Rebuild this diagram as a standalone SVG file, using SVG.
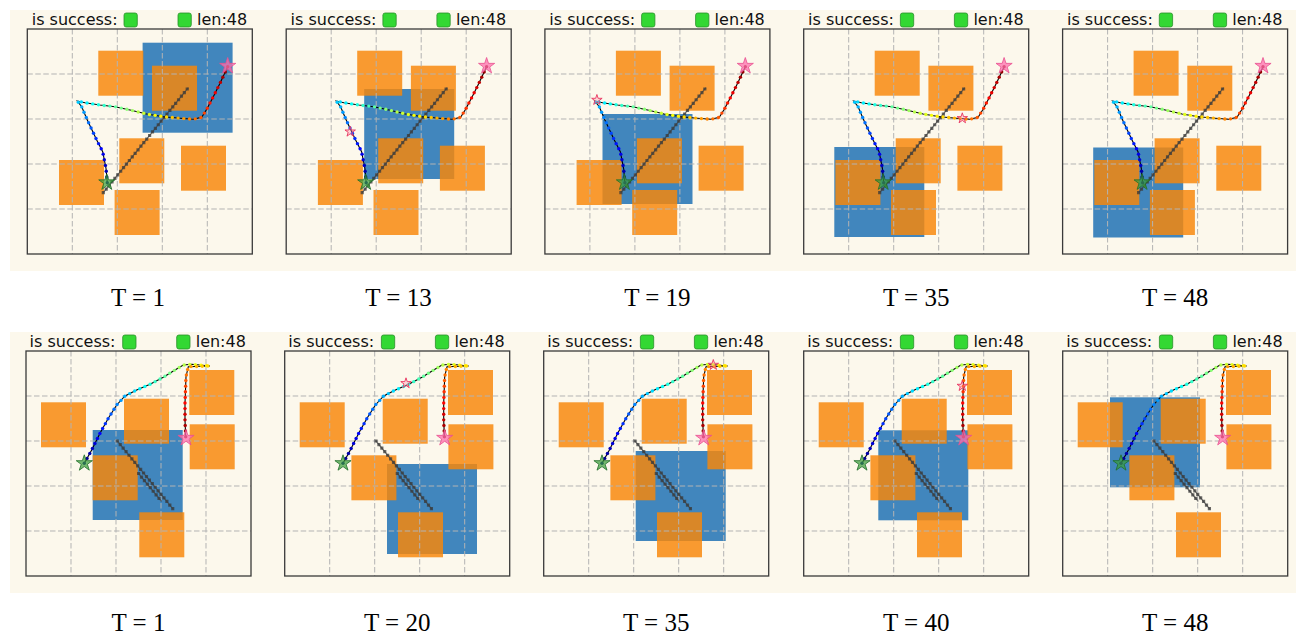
<svg xmlns="http://www.w3.org/2000/svg" xmlns:xlink="http://www.w3.org/1999/xlink" width="1301" height="635" viewBox="0 0 1301 635">
<style>
  .band { fill: #fcf8ec; }
  .blue { fill: #4186bd; }
  .obs { fill: #f8870a; fill-opacity: 0.83; }
  .grid { stroke: #b3b3b3; stroke-width: 1; stroke-dasharray: 5.5 2.5; fill: none; }
  .frame { fill: none; stroke: #3a3a3a; stroke-width: 1.3; }
  .push { fill: none; stroke: #4a4a4a; stroke-opacity: 0.7; stroke-width: 1.2; }
  .pushdots { fill: none; stroke: #383838; stroke-opacity: 0.75; stroke-width: 3.2; stroke-dasharray: 0 4.6; stroke-linecap: square; }
  .path { fill: none; stroke: #000; stroke-width: 1.1; }
  .dots circle { r: 1.7px; }
  .goal { fill: #ff6fae; fill-opacity: 0.75; stroke: #e8508f; stroke-width: 0.8; }
  .start { fill: #3a9e3a; fill-opacity: 0.7; stroke: #1f6f2a; stroke-width: 0.8; }
  .cur { fill: #ff8fa8; fill-opacity: 0.35; stroke: #e8335f; stroke-width: 0.9; }
  .hdr { font-family: "DejaVu Sans", "Liberation Sans", sans-serif; font-size: 16px; fill: #111; }
  .ok { fill: #33d833; stroke: #2a8f2a; stroke-width: 0.8; }
  .cap { font-family: "Liberation Serif", "Times New Roman", serif; font-size: 25px; fill: #000; text-anchor: middle; }
</style>
<defs>
  <path id="bigstar" d="M0,-8.5 L1.91,-2.63 L8.08,-2.63 L3.09,1 L5,6.88 L0,3.25 L-5,6.88 L-3.09,1 L-8.08,-2.63 L-1.91,-2.63 Z"/>
  <path id="smallstar" d="M0,-5.5 L1.23,-1.7 L5.23,-1.7 L2,0.65 L3.23,4.45 L0,2.1 L-3.23,4.45 L-2,0.65 L-5.23,-1.7 L-1.23,-1.7 Z"/>

  <!-- dashed grid, 5 x 5 cells of 45 px -->
  <g id="grid" class="grid">
    <path d="M45,0V225M90,0V225M135,0V225M180,0V225M0,45H225M0,90H225M0,135H225M0,180H225"/>
  </g>
  <rect id="frame" class="frame" x="0" y="0" width="225" height="225"/>

  <!-- header: success flag and episode length -->
  <g id="header">
    <rect class="ok" x="96.7" y="-16" width="13.3" height="14" rx="2.2"/>
    <rect class="ok" x="150.7" y="-16" width="13.3" height="14" rx="2.2"/>
  </g>

  <!-- obstacles, scene A -->
  <g id="obsA" class="obs">
    <rect x="71" y="21.7" width="45" height="45"/>
    <rect x="124.7" y="36.7" width="45" height="45"/>
    <rect x="92" y="109.3" width="45" height="45"/>
    <rect x="153.7" y="116.7" width="45" height="45"/>
    <rect x="31.7" y="131" width="45" height="45"/>
    <rect x="87.3" y="161" width="45" height="45"/>
  </g>

  <!-- obstacles, scene B -->
  <g id="obsB" class="obs">
    <rect x="15" y="51.3" width="45" height="45"/>
    <rect x="98" y="47.7" width="45" height="45"/>
    <rect x="163.3" y="19" width="45" height="45"/>
    <rect x="163.7" y="73.3" width="45" height="45"/>
    <rect x="66.7" y="104.3" width="45" height="45"/>
    <rect x="113.3" y="161.3" width="45" height="45"/>
  </g>

  <!-- pushed-object track and agent trajectory, scene A -->
  <g id="trajA">
    <path class="push" d="M76,163.7L161,58.7"/>
    <path class="pushdots" d="M76,163.7L161,58.7"/>
    <polyline class="path" points="80,153.7 78.7,139.3 75.4,122.7 69.4,111 60,91 54.4,77.7 50,72 57.7,73.7 72.7,76 87.7,77.7 102.7,81 119.4,85 136,87.7 152.7,89.3 166,90.3 174.4,88.3 179.4,80.3 186,67.7 192.7,54.3 200.4,37.7"/>
    <g class="dots">
      <circle cx="80" cy="153.7" fill="#000080"/>
      <circle cx="79.48" cy="147.94" fill="#000095"/>
      <circle cx="78.96" cy="142.2" fill="#0000ab"/>
      <circle cx="78.14" cy="136.48" fill="#0000c1"/>
      <circle cx="77.01" cy="130.82" fill="#0000d6"/>
      <circle cx="75.89" cy="125.15" fill="#0000ec"/>
      <circle cx="73.9" cy="119.78" fill="#0003ff"/>
      <circle cx="71.27" cy="114.65" fill="#0018ff"/>
      <circle cx="68.69" cy="109.48" fill="#002eff"/>
      <circle cx="66.23" cy="104.26" fill="#0044ff"/>
      <circle cx="63.77" cy="99.03" fill="#0059ff"/>
      <circle cx="61.32" cy="93.8" fill="#006fff"/>
      <circle cx="58.96" cy="88.53" fill="#0085ff"/>
      <circle cx="56.72" cy="83.2" fill="#009aff"/>
      <circle cx="54.48" cy="77.88" fill="#00b0ff"/>
      <circle cx="50.99" cy="73.28" fill="#00c6ff"/>
      <circle cx="54.06" cy="72.89" fill="#00dbff"/>
      <circle cx="59.72" cy="74.01" fill="#00f1ff"/>
      <circle cx="65.43" cy="74.89" fill="#08fff7"/>
      <circle cx="71.13" cy="75.77" fill="#1effe1"/>
      <circle cx="76.86" cy="76.47" fill="#33ffcb"/>
      <circle cx="82.6" cy="77.12" fill="#49ffb6"/>
      <circle cx="88.33" cy="77.84" fill="#5fffa0"/>
      <circle cx="93.97" cy="79.08" fill="#75ff8a"/>
      <circle cx="99.61" cy="80.32" fill="#8aff75"/>
      <circle cx="105.24" cy="81.61" fill="#a0ff5f"/>
      <circle cx="110.86" cy="82.95" fill="#b6ff49"/>
      <circle cx="116.48" cy="84.3" fill="#cbff33"/>
      <circle cx="122.13" cy="85.45" fill="#e1ff1e"/>
      <circle cx="127.83" cy="86.37" fill="#f7ff08"/>
      <circle cx="133.53" cy="87.31" fill="#fff100"/>
      <circle cx="139.26" cy="88.01" fill="#ffdb00"/>
      <circle cx="145" cy="88.56" fill="#ffc600"/>
      <circle cx="150.76" cy="89.11" fill="#ffb000"/>
      <circle cx="156.51" cy="89.59" fill="#ff9a00"/>
      <circle cx="162.27" cy="90.02" fill="#ff8500"/>
      <circle cx="167.98" cy="89.83" fill="#ff6f00"/>
      <circle cx="173.6" cy="88.49" fill="#ff5900"/>
      <circle cx="177.03" cy="84.09" fill="#ff4400"/>
      <circle cx="180" cy="79.15" fill="#ff2e00"/>
      <circle cx="182.69" cy="74.03" fill="#ff1800"/>
      <circle cx="185.37" cy="68.91" fill="#ff0300"/>
      <circle cx="187.97" cy="63.76" fill="#ec0000"/>
      <circle cx="190.55" cy="58.59" fill="#d60000"/>
      <circle cx="193.11" cy="53.41" fill="#c10000"/>
      <circle cx="195.55" cy="48.17" fill="#ab0000"/>
      <circle cx="197.98" cy="42.93" fill="#950000"/>
      <circle cx="200.4" cy="37.7" fill="#800000"/>
    </g>
    <use xlink:href="#bigstar" class="start" transform="translate(79.5,153.5)"/>
    <use xlink:href="#bigstar" class="goal" transform="translate(200.4,37)"/>
  </g>

  <!-- pushed-object track and agent trajectory, scene B -->
  <g id="trajB">
    <path class="push" d="M91.3,90L147.3,158.3M112.6,122.5L135.6,150.5"/>
    <path class="pushdots" d="M91.3,90L147.3,158.3"/>
    <path class="pushdots" d="M112.6,122.5L135.6,150.5"/>
    <polyline class="path" points="58.3,112.3 65.7,99 74,82.3 82.3,67.3 90.7,54 99,45 110.7,39 124,33.3 137.3,26.3 149,19 157.3,14 165.7,13.3 174,14 184,15 162.3,15.7 160,25.7 159,52.3 159,69 159.7,85.7"/>
    <g class="dots">
      <circle cx="58.3" cy="112.3" fill="#000080"/>
      <circle cx="61.03" cy="107.39" fill="#000095"/>
      <circle cx="63.76" cy="102.49" fill="#0000ab"/>
      <circle cx="66.43" cy="97.54" fill="#0000c1"/>
      <circle cx="68.92" cy="92.52" fill="#0000d6"/>
      <circle cx="71.42" cy="87.49" fill="#0000ec"/>
      <circle cx="73.92" cy="82.47" fill="#0003ff"/>
      <circle cx="76.63" cy="77.54" fill="#0018ff"/>
      <circle cx="79.35" cy="72.63" fill="#002eff"/>
      <circle cx="82.07" cy="67.71" fill="#0044ff"/>
      <circle cx="85.04" cy="62.95" fill="#0059ff"/>
      <circle cx="88.05" cy="58.2" fill="#006fff"/>
      <circle cx="91.13" cy="53.53" fill="#0085ff"/>
      <circle cx="94.94" cy="49.4" fill="#009aff"/>
      <circle cx="98.75" cy="45.28" fill="#00b0ff"/>
      <circle cx="103.67" cy="42.61" fill="#00c6ff"/>
      <circle cx="108.67" cy="40.05" fill="#00dbff"/>
      <circle cx="113.76" cy="37.69" fill="#00f1ff"/>
      <circle cx="118.92" cy="35.48" fill="#08fff7"/>
      <circle cx="124.08" cy="33.26" fill="#1effe1"/>
      <circle cx="129.04" cy="30.64" fill="#33ffcb"/>
      <circle cx="134.02" cy="28.02" fill="#49ffb6"/>
      <circle cx="138.91" cy="25.29" fill="#5fffa0"/>
      <circle cx="143.68" cy="22.32" fill="#75ff8a"/>
      <circle cx="148.43" cy="19.35" fill="#8aff75"/>
      <circle cx="153.25" cy="16.44" fill="#a0ff5f"/>
      <circle cx="158.18" cy="13.93" fill="#b6ff49"/>
      <circle cx="163.77" cy="13.46" fill="#cbff33"/>
      <circle cx="169.37" cy="13.61" fill="#e1ff1e"/>
      <circle cx="174.97" cy="14.1" fill="#f7ff08"/>
      <circle cx="180.55" cy="14.65" fill="#fff100"/>
      <circle cx="181.85" cy="15.07" fill="#ffdb00"/>
      <circle cx="176.24" cy="15.25" fill="#ffc600"/>
      <circle cx="170.63" cy="15.43" fill="#ffb000"/>
      <circle cx="165.02" cy="15.61" fill="#ff9a00"/>
      <circle cx="161.65" cy="18.53" fill="#ff8500"/>
      <circle cx="160.39" cy="24" fill="#ff6f00"/>
      <circle cx="159.85" cy="29.57" fill="#ff5900"/>
      <circle cx="159.64" cy="35.17" fill="#ff4400"/>
      <circle cx="159.43" cy="40.79" fill="#ff2e00"/>
      <circle cx="159.22" cy="46.4" fill="#ff1800"/>
      <circle cx="159.01" cy="52.01" fill="#ff0300"/>
      <circle cx="159" cy="57.62" fill="#ec0000"/>
      <circle cx="159" cy="63.24" fill="#d60000"/>
      <circle cx="159" cy="68.85" fill="#c10000"/>
      <circle cx="159.23" cy="74.46" fill="#ab0000"/>
      <circle cx="159.47" cy="80.07" fill="#950000"/>
      <circle cx="159.7" cy="85.7" fill="#800000"/>
    </g>
    <use xlink:href="#bigstar" class="start" transform="translate(58.3,112.3)"/>
    <use xlink:href="#bigstar" class="goal" transform="translate(160,87)"/>
  </g>
</defs>

<!-- figure background bands -->
<rect class="band" x="10" y="10" width="1286" height="261"/>
<rect class="band" x="10" y="332" width="1286" height="261"/>

<!-- ===== row 1 ===== -->
<g id="a-t1" transform="translate(27.3,29)">
  <rect class="blue" x="115.3" y="13.7" width="90" height="90"/>
  <use xlink:href="#obsA"/><use xlink:href="#grid"/><use xlink:href="#trajA"/><use xlink:href="#frame"/>
  <text class="hdr" x="4.4" y="-4">is success:</text><use xlink:href="#header"/><text class="hdr" x="169.7" y="-4">len:48</text>
</g>
<g id="a-t13" transform="translate(286.2,29)">
  <rect class="blue" x="78" y="60" width="90" height="90"/>
  <use xlink:href="#obsA"/><use xlink:href="#grid"/><use xlink:href="#trajA"/>
  <use xlink:href="#smallstar" class="cur" transform="translate(64,102.7)"/>
  <use xlink:href="#frame"/>
  <text class="hdr" x="4.4" y="-4">is success:</text><use xlink:href="#header"/><text class="hdr" x="169.7" y="-4">len:48</text>
</g>
<g id="a-t19" transform="translate(544.9,29)">
  <rect class="blue" x="57.6" y="85" width="90" height="90"/>
  <use xlink:href="#obsA"/><use xlink:href="#grid"/><use xlink:href="#trajA"/>
  <use xlink:href="#smallstar" class="cur" transform="translate(52,71)"/>
  <use xlink:href="#frame"/>
  <text class="hdr" x="4.4" y="-4">is success:</text><use xlink:href="#header"/><text class="hdr" x="169.7" y="-4">len:48</text>
</g>
<g id="a-t35" transform="translate(803.7,29)">
  <rect class="blue" x="30.6" y="118" width="90" height="90"/>
  <use xlink:href="#obsA"/><use xlink:href="#grid"/><use xlink:href="#trajA"/>
  <use xlink:href="#smallstar" class="cur" transform="translate(158.6,89.3)"/>
  <use xlink:href="#frame"/>
  <text class="hdr" x="4.4" y="-4">is success:</text><use xlink:href="#header"/><text class="hdr" x="169.7" y="-4">len:48</text>
</g>
<g id="a-t48" transform="translate(1062.6,29)">
  <rect class="blue" x="30.6" y="118.5" width="90" height="90"/>
  <use xlink:href="#obsA"/><use xlink:href="#grid"/><use xlink:href="#trajA"/><use xlink:href="#frame"/>
  <text class="hdr" x="4.4" y="-4">is success:</text><use xlink:href="#header"/><text class="hdr" x="169.7" y="-4">len:48</text>
</g>

<!-- ===== row 2 ===== -->
<g id="b-t1" transform="translate(26,351)">
  <rect class="blue" x="66.7" y="79" width="90" height="90"/>
  <use xlink:href="#obsB"/><use xlink:href="#grid"/><use xlink:href="#trajB"/><use xlink:href="#frame"/>
  <text class="hdr" x="3.6" y="-4">is success:</text><use xlink:href="#header"/><text class="hdr" x="169.7" y="-4">len:48</text>
</g>
<g id="b-t20" transform="translate(284.7,351)">
  <rect class="blue" x="102.3" y="113" width="90" height="90"/>
  <use xlink:href="#obsB"/><use xlink:href="#grid"/><use xlink:href="#trajB"/>
  <use xlink:href="#smallstar" class="cur" transform="translate(121.3,32.3)"/>
  <use xlink:href="#frame"/>
  <text class="hdr" x="3.6" y="-4">is success:</text><use xlink:href="#header"/><text class="hdr" x="169.7" y="-4">len:48</text>
</g>
<g id="b-t35" transform="translate(543.7,351)">
  <rect class="blue" x="92" y="100" width="90" height="90"/>
  <use xlink:href="#obsB"/><use xlink:href="#grid"/><use xlink:href="#trajB"/>
  <use xlink:href="#smallstar" class="cur" transform="translate(169.6,14)"/>
  <use xlink:href="#frame"/>
  <text class="hdr" x="3.6" y="-4">is success:</text><use xlink:href="#header"/><text class="hdr" x="169.7" y="-4">len:48</text>
</g>
<g id="b-t40" transform="translate(803.7,351)">
  <rect class="blue" x="74.6" y="79.3" width="90" height="90"/>
  <use xlink:href="#obsB"/><use xlink:href="#grid"/><use xlink:href="#trajB"/>
  <use xlink:href="#smallstar" class="cur" transform="translate(158.6,35)"/>
  <use xlink:href="#frame"/>
  <text class="hdr" x="3.6" y="-4">is success:</text><use xlink:href="#header"/><text class="hdr" x="169.7" y="-4">len:48</text>
</g>
<g id="b-t48" transform="translate(1062.7,351)">
  <rect class="blue" x="47.3" y="46.3" width="90" height="90"/>
  <use xlink:href="#obsB"/><use xlink:href="#grid"/><use xlink:href="#trajB"/><use xlink:href="#frame"/>
  <text class="hdr" x="3.6" y="-4">is success:</text><use xlink:href="#header"/><text class="hdr" x="169.7" y="-4">len:48</text>
</g>

<!-- step captions -->
<g id="captions">
  <text class="cap" x="138" y="306">T = 1</text>
  <text class="cap" x="398.5" y="306">T = 13</text>
  <text class="cap" x="657.4" y="306">T = 19</text>
  <text class="cap" x="916.2" y="306">T = 35</text>
  <text class="cap" x="1175.1" y="306">T = 48</text>
  <text class="cap" x="138.5" y="630.5">T = 1</text>
  <text class="cap" x="397.2" y="630.5">T = 20</text>
  <text class="cap" x="656.2" y="630.5">T = 35</text>
  <text class="cap" x="916.2" y="630.5">T = 40</text>
  <text class="cap" x="1175.2" y="630.5">T = 48</text>
</g>
</svg>
